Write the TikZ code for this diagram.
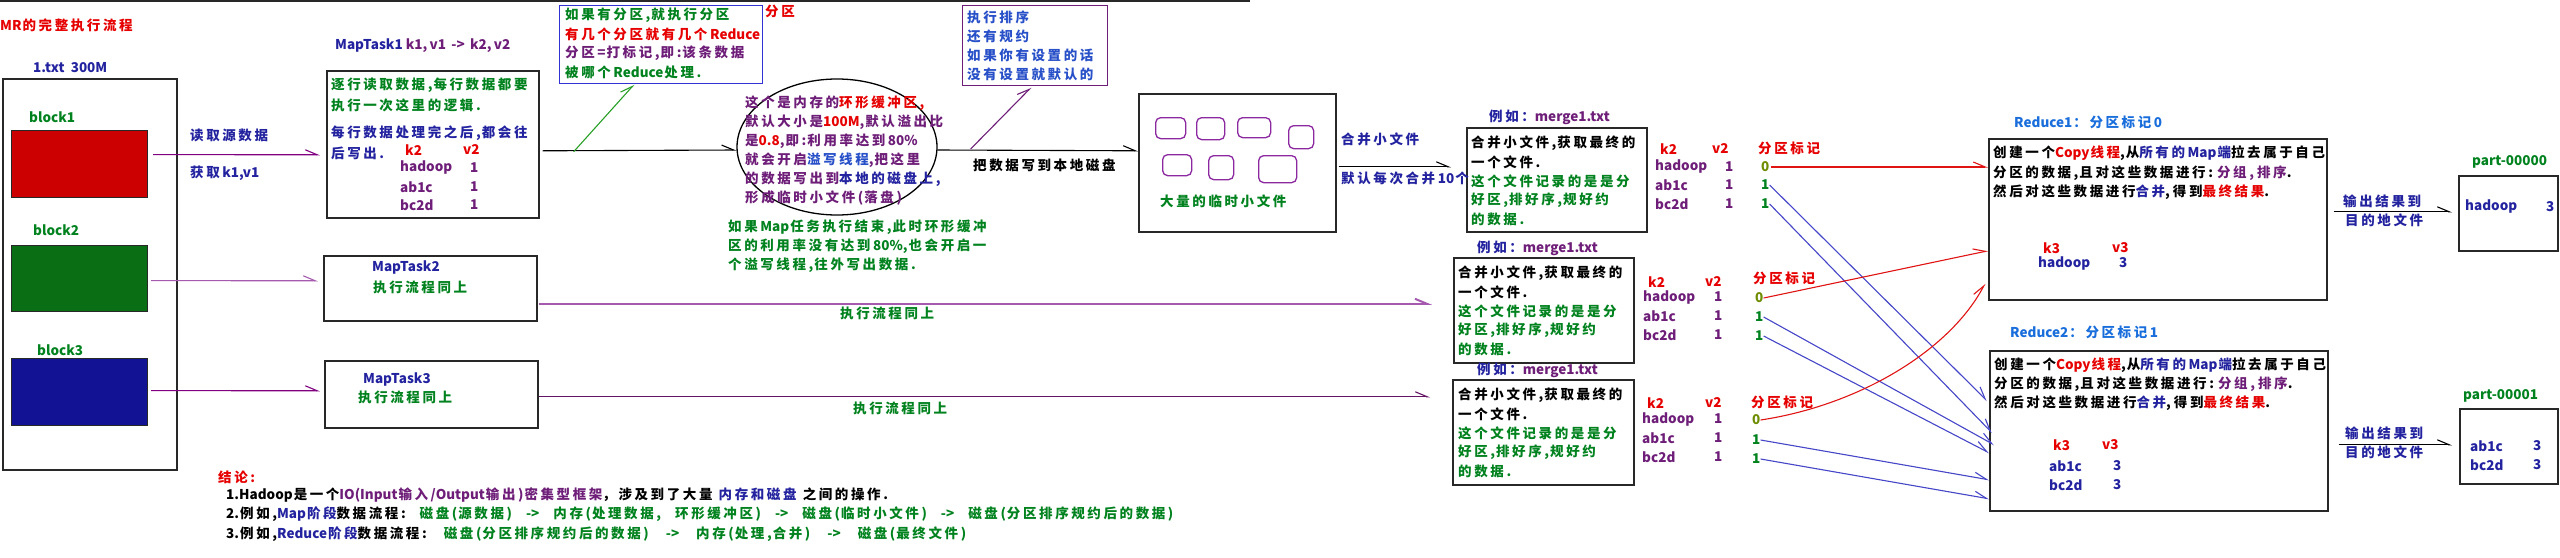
\documentclass[tikz,border=0pt]{standalone}
\usepackage{fontspec}
\setmainfont{Noto Sans CJK SC}
\usetikzlibrary{arrows.meta,shapes.geometric}
\newcount\mycnt
\newcommand\setcjkrange[2]{\mycnt=#1\relax
  \loop \XeTeXcharclass\mycnt=5\relax \ifnum\mycnt<#2\relax \advance\mycnt by 1\relax \repeat}
\setcjkrange{"4E00}{"9FFF}
\setcjkrange{"3000}{"303F}
\setcjkrange{"FF00}{"FFEF}
\XeTeXinterchartokenstate=1
\XeTeXinterchartoks 5 5 = {\kern2.6pt}
\XeTeXinterchartoks 5 0 = {\kern2.6pt}
\XeTeXinterchartoks 0 5 = {\kern1pt}
\definecolor{cred}{RGB}{230,0,0}
\definecolor{cnavy}{RGB}{35,35,160}
\definecolor{cpur}{RGB}{110,30,120}
\definecolor{cgrn}{RGB}{0,130,30}
\definecolor{colv}{RGB}{110,140,0}
\definecolor{cblue}{RGB}{25,110,220}
\definecolor{csort}{RGB}{40,80,200}
\definecolor{cboxc}{RGB}{40,40,40}
\definecolor{ccon}{RGB}{128,0,128}
\definecolor{cconl}{RGB}{165,90,175}
\definecolor{ccond}{RGB}{100,20,100}
\definecolor{cblu2}{RGB}{70,70,200}
\definecolor{cconr}{RGB}{225,20,20}
\definecolor{cgrnl}{RGB}{40,160,40}
\definecolor{cpbox}{RGB}{50,50,210}
\definecolor{crr}{RGB}{140,40,160}
\definecolor{cb1}{RGB}{204,0,0}
\definecolor{cb2}{RGB}{10,110,20}
\definecolor{cb3}{RGB}{18,18,148}
\newcommand\fsz{\fontsize{13.5}{19}\selectfont\bfseries}
\newcommand\mycol[2]{\textcolor{#1}{#2}}
\newcommand\tnode[5]{\node[txt,text=#4] (#1) at (#2,#3) {#5};}
\newcommand\mkbox[6]{\node[#1,minimum width=#4pt,minimum height=#5pt] (#6) at (#2,#3) {};}
\newcommand\ga{\hspace{14pt}}
\newcommand\gb{\hspace{17pt}}
\begin{document}
\begin{tikzpicture}[x=1pt,y=-1pt,
  txt/.style={inner sep=0pt,anchor=west,font=\fsz},
  bx/.style={draw=cboxc,line width=1.6pt,inner sep=0pt,anchor=north west,rectangle},
  fbx/.style={draw=cboxc,line width=1.2pt,inner sep=0pt,anchor=north west,rectangle},
  pbx/.style={draw=cpbox,line width=1.4pt,inner sep=0pt,anchor=north west,rectangle},
  sbx/.style={draw=cpur,line width=1.4pt,inner sep=0pt,anchor=north west,rectangle},
  rbx/.style={draw=crr,line width=1.3pt,rounded corners=5pt,inner sep=0pt,anchor=north west,rectangle},
  con/.style={line width=1.1pt,-{Straight Barb[harpoon,length=12pt,width=10pt]}},
]
\fill[white] (0,0) rectangle (2560,557);
\useasboundingbox (0,0) rectangle (2560,557);
\draw[cboxc,line width=1.5pt] (0,1) -- (1250,1);

% ---------- boxes ----------
\mkbox{bx}{2}{78}{174}{391}{file}
\node[fbx,fill=cb1,minimum width=136pt,minimum height=67pt] (b1) at (11,130) {};
\node[fbx,fill=cb2,minimum width=136pt,minimum height=66pt] (b2) at (11,245) {};
\node[fbx,fill=cb3,minimum width=136pt,minimum height=67pt] (b3) at (11,358) {};
\mkbox{bx}{326}{70}{212}{147}{mt1}
\mkbox{bx}{323}{255}{213}{65}{mt2}
\mkbox{bx}{324}{360}{213}{67}{mt3}
\mkbox{pbx}{559}{5}{203}{78}{pbox}
\node[draw=black,line width=1.3pt,ellipse,minimum width=200pt,minimum height=136pt,inner sep=0pt] (ell) at (837,147) {};
\mkbox{sbx}{962}{5}{145}{80}{sbox}
\mkbox{bx}{1138}{93}{197}{138}{tmp}
\mkbox{rbx}{1155}{117}{30}{21}{rr1}
\mkbox{rbx}{1196}{117}{28}{22}{rr2}
\mkbox{rbx}{1237}{117}{33}{20}{rr3}
\mkbox{rbx}{1288}{125}{25}{23}{rr4}
\mkbox{rbx}{1162}{154}{29}{21}{rr5}
\mkbox{rbx}{1208}{155}{25}{24}{rr6}
\mkbox{rbx}{1258}{155}{38}{27}{rr7}
\mkbox{bx}{1466}{127}{180}{104}{mg1}
\mkbox{bx}{1453}{257}{180}{105}{mg2}
\mkbox{bx}{1452}{379}{181}{105}{mg3}
\mkbox{bx}{1988}{138}{338}{161}{red1}
\mkbox{bx}{1989}{350}{338}{160}{red2}
\mkbox{bx}{2458}{175}{99}{75}{p0}
\mkbox{bx}{2459}{408}{98}{75}{p1}

% ---------- texts left ----------
\tnode{title}{0}{25}{cred}{MR的完整执行流程}
\tnode{ftitle}{33}{68}{cnavy}{1.txt\ \ 300M}
\tnode{lb1}{29}{117}{cgrn}{block1}
\tnode{lb2}{33}{230}{cgrn}{block2}
\tnode{lb3}{37}{350}{cgrn}{block3}
\tnode{rd1}{190}{135}{cnavy}{读取源数据}
\tnode{rd2}{190}{173}{cnavy}{获取k1,v1}
\tnode{mt1t}{335}{46}{cnavy}{MapTask1\mycol{cpur}{\ k1,\,v1 \,->\, k2,\,v2}}
\tnode{mt1a}{331}{85}{cgrn}{逐行读取数据,每行数据都要}
\tnode{mt1b}{331}{105}{cgrn}{执行一次这里的逻辑.}
\tnode{mt1c}{331}{133}{cnavy}{每行数据处理完之后,都会往}
\tnode{mt1d}{331}{153}{cnavy}{后写出.}
\tnode{mt1k}{405}{150}{cred}{k2}
\tnode{mt1v}{463}{150}{cred}{v2}
\tnode{mt1r1}{400}{168}{cpur}{hadoop}
\tnode{mt1r2}{400}{187}{cpur}{ab1c}
\tnode{mt1r3}{400}{205}{cpur}{bc2d}
\tnode{mt1n1}{470}{168}{cpur}{1}
\tnode{mt1n2}{470}{187}{cpur}{1}
\tnode{mt1n3}{470}{205}{cpur}{1}
\tnode{mt2a}{372}{268}{cnavy}{MapTask2}
\tnode{mt2b}{373}{287}{cgrn}{执行流程同上}
\tnode{mt3a}{363}{379}{cnavy}{MapTask3}
\tnode{mt3b}{358}{397}{cgrn}{执行流程同上}

% ---------- partition / buffer ----------
\tnode{pa}{565}{15}{cgrn}{如果有分区,就执行分区}
\tnode{pb}{565}{34}{cred}{有几个分区就有几个Reduce}
\tnode{pc}{565}{53}{cpur}{分区=打标记,即:该条数据}
\tnode{pd}{565}{72}{cgrn}{被哪个Reduce处理.}
\tnode{plab}{765}{11}{cred}{分区}
\tnode{ea}{745}{103}{cpur}{这个是内存的\mycol{cred}{环形缓冲区,}}
\tnode{eb}{745}{122}{cpur}{默认大小是\mycol{cred}{100M},默认溢出比}
\tnode{ec}{745}{141}{cpur}{是\mycol{cred}{0.8},即:利用率达到80\%}
\tnode{ed}{745}{160}{cpur}{就会开启\mycol{csort}{溢写线程},把这里}
\tnode{ee}{745}{179}{cpur}{的数据写出到\mycol{cnavy}{本地的磁盘上,}}
\tnode{ef}{745}{198}{cpur}{形成临时小文件(落盘)}
\tnode{ga}{728}{227}{cgrn}{如果Map任务执行结束,此时环形缓冲}
\tnode{gb}{728}{246}{cgrn}{区的利用率没有达到80\%,也会开启一}
\tnode{gc}{728}{265}{cgrn}{个溢写线程,往外写出数据.}
\tnode{sa}{967}{17}{csort}{执行排序}
\tnode{sb}{967}{36}{csort}{还有规约}
\tnode{sc}{967}{55}{csort}{如果你有设置的话}
\tnode{sd}{967}{74}{csort}{没有设置就默认的}
\tnode{wr}{973}{165}{black}{把数据写到本地磁盘}
\tnode{tmpl}{1160}{201}{cgrn}{大量的临时小文件}
\tnode{hb1}{1341}{139}{cnavy}{合并小文件}
\tnode{hb2}{1341}{178}{cnavy}{默认每次合并10个}
\tnode{ex1}{840}{313}{cgrn}{执行流程同上}
\tnode{ex2}{853}{408}{cgrn}{执行流程同上}

% ---------- merge boxes ----------
\tnode{mg1l}{1489}{117}{cnavy}{例如：\mycol{cpur}{merge1.txt}}
\tnode{mg1a}{1471}{143}{black}{合并小文件,获取最终的}
\tnode{mg1b}{1471}{162}{black}{一个文件.}
\tnode{mg1c}{1471}{181}{cgrn}{这个文件记录的是是分}
\tnode{mg1d}{1471}{200}{cgrn}{好区,排好序,规好约}
\tnode{mg1e}{1471}{219}{cgrn}{的数据.}
\tnode{mg2l}{1477}{248}{cnavy}{例如：\mycol{cpur}{merge1.txt}}
\tnode{mg2a}{1458}{273}{black}{合并小文件,获取最终的}
\tnode{mg2b}{1458}{292}{black}{一个文件.}
\tnode{mg2c}{1458}{311}{cgrn}{这个文件记录的是是分}
\tnode{mg2d}{1458}{330}{cgrn}{好区,排好序,规好约}
\tnode{mg2e}{1458}{349}{cgrn}{的数据.}
\tnode{mg3l}{1477}{370}{cnavy}{例如：\mycol{cpur}{merge1.txt}}
\tnode{mg3a}{1458}{395}{black}{合并小文件,获取最终的}
\tnode{mg3b}{1458}{414}{black}{一个文件.}
\tnode{mg3c}{1458}{433}{cgrn}{这个文件记录的是是分}
\tnode{mg3d}{1458}{452}{cgrn}{好区,排好序,规好约}
\tnode{mg3e}{1458}{471}{cgrn}{的数据.}

% tables
\tnode{t1k}{1660}{149}{cred}{k2}
\tnode{t1v}{1712}{149}{cred}{v2}
\tnode{t1p}{1758}{148}{cred}{分区标记}
\tnode{t1r1}{1655}{167}{cpur}{hadoop}
\tnode{t1r2}{1655}{185}{cpur}{ab1c}
\tnode{t1r3}{1655}{204}{cpur}{bc2d}
\tnode{t1n1}{1725}{167}{cpur}{1}
\tnode{t1n2}{1725}{185}{cpur}{1}
\tnode{t1n3}{1725}{204}{cpur}{1}
\tnode{m1a}{1761}{167}{colv}{0}
\tnode{m1b}{1761}{185}{cgrn}{1}
\tnode{m1c}{1761}{204}{cgrn}{1}
\tnode{t2k}{1648}{282}{cred}{k2}
\tnode{t2v}{1705}{282}{cred}{v2}
\tnode{t2p}{1753}{278}{cred}{分区标记}
\tnode{t2r1}{1643}{297}{cpur}{hadoop}
\tnode{t2r2}{1643}{316}{cpur}{ab1c}
\tnode{t2r3}{1643}{335}{cpur}{bc2d}
\tnode{t2n1}{1714}{297}{cpur}{1}
\tnode{t2n2}{1714}{316}{cpur}{1}
\tnode{t2n3}{1714}{335}{cpur}{1}
\tnode{m2a}{1755}{298}{colv}{0}
\tnode{m2b}{1755}{317}{cgrn}{1}
\tnode{m2c}{1755}{336}{cgrn}{1}
\tnode{t3k}{1647}{403}{cred}{k2}
\tnode{t3v}{1705}{402}{cred}{v2}
\tnode{t3p}{1751}{402}{cred}{分区标记}
\tnode{t3r1}{1642}{419}{cpur}{hadoop}
\tnode{t3r2}{1642}{438}{cpur}{ab1c}
\tnode{t3r3}{1642}{457}{cpur}{bc2d}
\tnode{t3n1}{1714}{419}{cpur}{1}
\tnode{t3n2}{1714}{438}{cpur}{1}
\tnode{t3n3}{1714}{457}{cpur}{1}
\tnode{m3a}{1752}{420}{colv}{0}
\tnode{m3b}{1752}{440}{cgrn}{1}
\tnode{m3c}{1752}{459}{cgrn}{1}

% ---------- reduce ----------
\tnode{r1l}{2014}{122}{cblue}{Reduce1：分区标记0}
\tnode{r1a}{1993}{153}{black}{创建一个\mycol{cred}{Copy线程},从\mycol{cnavy}{所有的Map端}拉去属于自己}
\tnode{r1b}{1993}{173}{black}{分区的数据,且对这些数据进行: \mycol{cpur}{分组, 排序}.}
\tnode{r1c}{1993}{192}{black}{然后对这些数据进行\mycol{cnavy}{合并}, 得到\mycol{cred}{最终结果}.}
\tnode{r1k}{2043}{248}{cred}{k3}
\tnode{r1v}{2112}{248}{cred}{v3}
\tnode{r1r}{2038}{263}{cnavy}{hadoop}
\tnode{r1n}{2119}{263}{cnavy}{3}
\tnode{r2l}{2010}{332}{cblue}{Reduce2：分区标记1}
\tnode{r2a}{1994}{365}{black}{创建一个\mycol{cred}{Copy线程},从\mycol{cnavy}{所有的Map端}拉去属于自己}
\tnode{r2b}{1994}{384}{black}{分区的数据,且对这些数据进行: \mycol{cpur}{分组, 排序}.}
\tnode{r2c}{1994}{403}{black}{然后对这些数据进行\mycol{cnavy}{合并}, 得到\mycol{cred}{最终结果}.}
\tnode{r2k}{2053}{445}{cred}{k3}
\tnode{r2v}{2102}{445}{cred}{v3}
\tnode{r2r1}{2049}{466}{cnavy}{ab1c}
\tnode{r2r2}{2049}{485}{cnavy}{bc2d}
\tnode{r2n1}{2113}{466}{cnavy}{3}
\tnode{r2n2}{2113}{485}{cnavy}{3}
\tnode{o1a}{2343}{201}{cnavy}{输出结果到}
\tnode{o1b}{2345}{220}{cnavy}{目的地文件}
\tnode{o2a}{2345}{433}{cnavy}{输出结果到}
\tnode{o2b}{2345}{452}{cnavy}{目的地文件}
\tnode{p0l}{2472}{162}{cgrn}{part-00000}
\tnode{p1l}{2463}{396}{cgrn}{part-00001}
\tnode{p0r}{2465}{207}{cnavy}{hadoop}
\tnode{p0n}{2546}{207}{cnavy}{3}
\tnode{p1r1}{2470}{446}{cnavy}{ab1c}
\tnode{p1r2}{2470}{465}{cnavy}{bc2d}
\tnode{p1n1}{2533}{446}{cnavy}{3}
\tnode{p1n2}{2533}{465}{cnavy}{3}

% ---------- conclusion ----------
\tnode{cc}{218}{477}{cred}{结论:}
\tnode{c1}{226}{495}{black}{1.Hadoop是一个\mycol{cpur}{IO(Input输入/Output输出)密集型框架}，涉及到了大量\ \ \mycol{cnavy}{内存和磁盘}\ \ 之间的操作.}
\tnode{c2}{226}{514}{black}{2.例如,\mycol{cnavy}{Map阶段}数据流程:{\ga}\mycol{cgrn}{磁盘(源数据){\ga}->{\ga}内存(处理数据,{\ga}环形缓冲区){\ga}->{\ga}磁盘(临时小文件){\ga}->{\ga}磁盘(分区排序规约后的数据)}}
\tnode{c3}{226}{534}{black}{3.例如,\mycol{cnavy}{Reduce阶段}数据流程:{\gb}\mycol{cgrn}{磁盘(分区排序规约后的数据){\gb}->{\gb}内存(处理,合并){\gb}->{\gb}磁盘(最终文件)}}

% ---------- connectors ----------
\draw[con,ccon] ([shift={(5,-9.5)}]b1.east) -- ([shift={(-6,10.5)}]mt1.west);
\draw[con,cconl] ([shift={(3,2)}]b2.east) -- ([shift={(-5,-7.5)}]mt2.west);
\draw[con,ccon] ([shift={(3,-1.5)}]b3.east) -- ([shift={(-4,-3.5)}]mt3.west);
\draw[con,black] ([shift={(3,6.5)}]mt1.east) -- ([shift={(0,3)}]ell.west);
\draw[con,cgrnl] ([shift={(34,7.5)}]mt1.east) -- ([shift={(-27,0)}]pbox.south);
\draw[con,black] ([shift={(0,3)}]ell.east) -- ([shift={(0,-12)}]tmp.west);
\draw[con,cpur] ([shift={(33,2)}]ell.east) -- ([shift={(-4,1)}]sbox.south);
\draw[con,black] ([shift={(2,4)}]tmp.east) -- ([shift={(-15,-13)}]mg1.west);
\draw[con,cconl,line width=2pt] ([shift={(1,15.5)}]mt2.east) -- ([shift={(-21,-6.5)}]mg2.west);
\draw[con,ccond] ([shift={(0,2.5)}]mt3.east) -- ([shift={(-22,-35.5)}]mg3.west);
\draw[con,black] ([shift={(6,-7.5)}]red1.east) -- ([shift={(-6,-1.5)}]p0.west);
\draw[con,black] ([shift={(10,14)}]red2.east) -- ([shift={(-7,-1.5)}]p1.west);

\draw[con,cconr] ([xshift=1pt]m1a.east) -- (m1a.east -| red1.west);
\draw[con,cblu2] (m1b.east) -- ([shift={(-2,-30)}]red2.west);
\draw[con,cblu2] (m1c.east) -- ([shift={(3,2)}]red2.west);
\draw[con,cconr] (m2a.east) -- ([shift={(0,31.5)}]red1.west);
\draw[con,cblu2] (m2b.east) -- ([shift={(5,14)}]red2.west);
\draw[con,cblu2] (m2c.east) -- ([shift={(0,22)}]red2.west);
\draw[con,cconr] (m3a.east) .. controls (1860,405) and (1950,350) .. ([shift={(-3,-17)}]red1.south west);
\draw[con,cblu2] (m3b.east) -- ([shift={(0,49)}]red2.west);
\draw[con,cblu2] (m3c.east) -- ([shift={(0,68)}]red2.west);
\end{tikzpicture}
\end{document}
